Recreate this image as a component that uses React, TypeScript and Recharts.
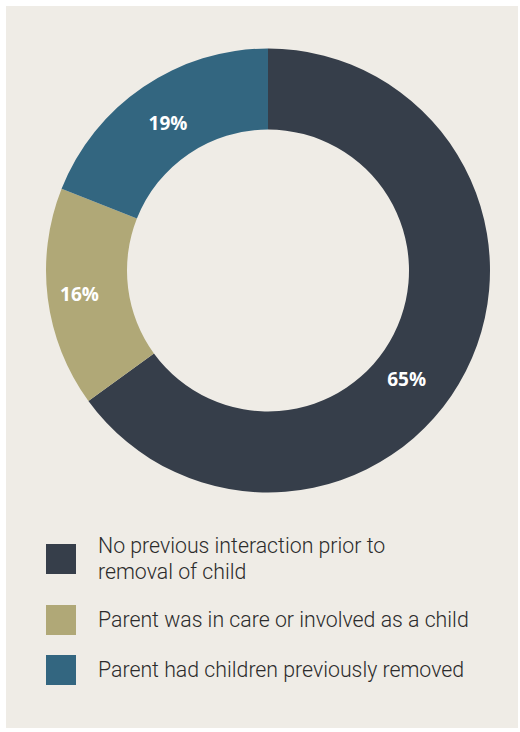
import { Cell, Pie, PieChart } from 'recharts'

const categories = [
  'No previous interaction prior to removal of child',
  'Parent was in care or involved as a child',
  'Parent had children previously removed',
]
const shares = [65, 16, 19]
const COLORS = ['#363e4a', '#b0a877', '#336680']

// label placement tweaks (angle nudge in degrees, radius in px)
const LABEL_TWEAK = [
  { da: -11, r: 176 },
  { da: 0, r: 190 },
  { da: 0, r: 178 },
]

const data = categories.map((name, i) => ({ name, value: shares[i] }))
const RAD = Math.PI / 180

function renderLabel(props: any) {
  const { cx, cy, midAngle, index, value } = props
  const t = LABEL_TWEAK[index] || { da: 0, r: 180 }
  const a = (midAngle + t.da) * RAD
  const x = cx + t.r * Math.cos(-a)
  const y = cy + t.r * Math.sin(-a)
  return (
    <text
      x={x}
      y={y}
      fill="#ffffff"
      textAnchor="middle"
      dominantBaseline="central"
      fontFamily="'Open Sans', sans-serif"
      fontWeight={700}
      fontSize={19}
    >
      {`${value}%`}
    </text>
  )
}

export default function App() {
  return (
    <div style={{ position: 'fixed', left: 0, top: 0, width: 520, height: 732, background: '#ffffff' }}>
      <div
        style={{
          position: 'absolute',
          left: 6,
          top: 6,
          width: 512,
          height: 722,
          background: '#efece6',
        }}
      >
        <PieChart width={512} height={520} margin={{ top: 0, right: 0, bottom: 0, left: 0 }}>
          <Pie
            data={data}
            dataKey="value"
            cx={262}
            cy={264.5}
            innerRadius={141}
            outerRadius={222}
            startAngle={90}
            endAngle={-270}
            stroke="none"
            label={renderLabel}
            labelLine={false}
            isAnimationActive={false}
          >
            {data.map((_, i) => (
              <Cell key={i} fill={COLORS[i]} />
            ))}
          </Pie>
        </PieChart>

        <div
          style={{
            position: 'absolute',
            left: 40,
            top: 527,
            display: 'flex',
            flexDirection: 'column',
            gap: 20,
            fontFamily: 'Roboto, sans-serif',
            fontWeight: 300,
            fontSize: 21.3,
            lineHeight: '26px',
            color: '#2b2b2b',
          }}
        >
          {categories.map((c, i) => (
            <div key={c} style={{ display: 'flex', alignItems: 'center' }}>
              <span
                style={{
                  width: 30,
                  height: 30,
                  flexShrink: 0,
                  background: COLORS[i],
                  marginRight: 22,
                }}
              />
              <span style={{ width: i === 0 ? 310 : 420 }}>{c}</span>
            </div>
          ))}
        </div>
      </div>
    </div>
  )
}
